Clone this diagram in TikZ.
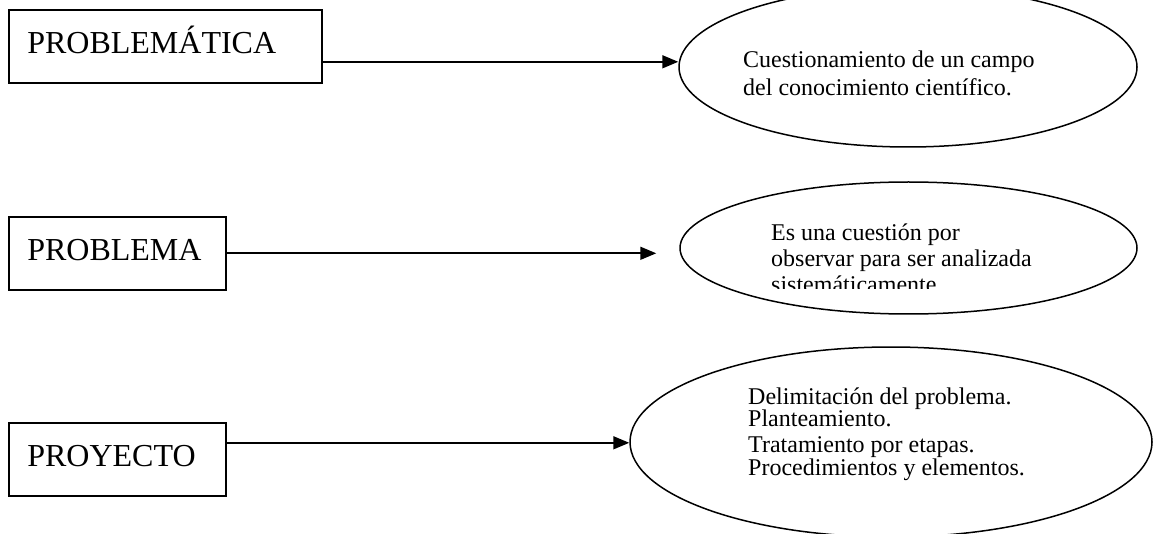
\documentclass[tikz,border=0pt]{standalone}
\usepackage{fontspec}
\setmainfont{Liberation Serif}
\usetikzlibrary{shapes.geometric,arrows.meta}
\begin{document}
\begin{tikzpicture}[x=1pt,y=-1pt,
  box/.style={draw,line width=1.6pt,rectangle,anchor=north west,minimum height=73pt,inner ysep=0pt,inner xsep=18.5pt,align=left,text height=21pt,text depth=6pt,font=\fontsize{32}{36}\selectfont},
  oval/.style={draw,line width=1.5pt,ellipse,inner sep=0pt},
  txt/.style={anchor=base west,inner sep=0pt,align=left,font=\fontsize{24}{27.6}\selectfont},
  arr/.style={line width=1.6pt,-{Triangle[length=16pt,width=13pt]}}]
\useasboundingbox (0,0) rectangle (1153,534);
\clip (0,0) rectangle (1153,534);
% boxes
\node[box,text width=276pt] (b1) at (8,9) {PROBLEMÁTICA};
\node[box,text width=180pt] (b2) at (8,216) {PROBLEMA};
\node[box,text width=180pt] (b3) at (8,422) {PROYECTO};
% ellipses
\node[oval,minimum width=458pt,minimum height=160pt] (e1) at (908,67) {};
\node[oval,minimum width=457pt,minimum height=132pt] (e2) at (908.5,248) {};
\node[oval,minimum width=522pt,minimum height=190pt] (e3) at (891,442) {};
% texts (base = baseline of the last line)
\node[txt] (t1) at (743,95.6) {Cuestionamiento de un campo\\del conocimiento científico.};
\begin{scope}
\clip (740,200) rectangle (1080,289);
\node[txt,font=\fontsize{24}{26}\selectfont] (t2) at (771,293) {Es una cuestión por\\observar para ser analizada\\sistemáticamente};
\end{scope}
\node[txt,font=\fontsize{24}{22.5}\selectfont] (t3) at (748,475) {Delimitación del problema.\\Planteamiento.\\[3.5pt]Tratamiento por etapas.\\Procedimientos y elementos.};
% arrows
\draw[arr] ([yshift=-15.5pt]b1.east) -- ([yshift=-15.5pt]b1.east -| e1.west);
\draw[arr] (b2.east) -- ([xshift=-23pt]b2.east -| e2.west);
\draw[arr] ([yshift=16.5pt]b3.east) -- ([yshift=16.5pt]b3.east -| e3.west);
\end{tikzpicture}
\end{document}
